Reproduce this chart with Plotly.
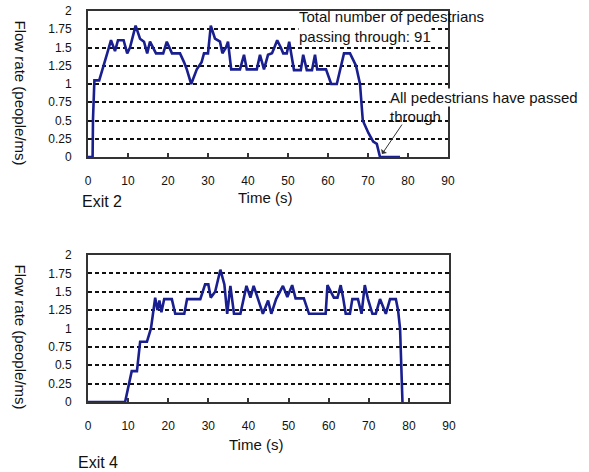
import plotly.graph_objects as go

# ---- data ----
exit2_t = [0, 1.15, 1.25, 1.6, 2.8, 3.8, 4.8, 5.75, 6.75, 7.5, 8.9, 9.8, 10.5, 11.9, 13, 14, 14.8,
           15.5, 16.5, 17, 18.8, 19.7, 21, 23, 24, 24.7, 25.8, 27.2, 28.4, 29, 30, 30.7, 31.75,
           33, 33.6, 34.5, 35, 35.8, 38, 39, 39.7, 42.2, 43, 44, 45, 46, 46.6, 47.3, 48.2, 48.8,
           49.7, 50.3, 51.5, 53.2, 53.8, 54.7, 56, 56.75, 57.3, 59.5, 60.8, 62.2, 64, 65.5, 67,
           68, 68.7, 70.1, 71.3, 72.2, 73, 78]
exit2_v = [0, 0, 0.52, 1.05, 1.05, 1.25, 1.42, 1.6, 1.45, 1.6, 1.6, 1.42, 1.5, 1.8, 1.62, 1.58, 1.42,
           1.58, 1.48, 1.42, 1.42, 1.58, 1.42, 1.42, 1.3, 1.2, 1.0, 1.2, 1.3, 1.42, 1.42, 1.8, 1.62,
           1.58, 1.42, 1.5, 1.58, 1.2, 1.2, 1.4, 1.2, 1.2, 1.4, 1.2, 1.4, 1.42, 1.5, 1.6, 1.5, 1.42,
           1.42, 1.58, 1.19, 1.19, 1.4, 1.19, 1.19, 1.4, 1.2, 1.2, 1.0, 1.0, 1.42, 1.42, 1.25,
           1.0, 0.5, 0.33, 0.21, 0.18, 0, 0]

exit4_t = [0, 9.25, 10.9, 12.2, 13, 14.7, 15.7, 16.3, 16.75, 17.3, 17.8, 18.3, 19, 20.9, 21.75, 24,
           24.7, 28, 29.2, 30, 30.6, 31.7, 33, 34, 34.7, 35.5, 36.4, 38, 39.5, 40.5, 41.3, 42.4,
           43.6, 44.9, 45.7, 46.9, 48.6, 49.7, 50.9, 51.75, 53.8, 55.1, 59.25, 59.7, 61.3, 62.2,
           63, 63.6, 64.25, 65.3, 65.9, 67.3, 68.2, 69, 69.8, 70.9, 71.75, 72.8, 74.25, 75.3,
           76.75, 77.3, 77.8, 78.4]
exit4_v = [0, 0, 0.42, 0.42, 0.82, 0.82, 1.0, 1.25, 1.42, 1.25, 1.38, 1.22, 1.4, 1.4, 1.2, 1.2,
           1.4, 1.4, 1.6, 1.6, 1.42, 1.5, 1.8, 1.6, 1.2, 1.58, 1.2, 1.2, 1.58, 1.42, 1.58, 1.4,
           1.2, 1.38, 1.2, 1.4, 1.58, 1.43, 1.59, 1.41, 1.41, 1.2, 1.2, 1.59, 1.42, 1.42,
           1.59, 1.42, 1.2, 1.2, 1.4, 1.4, 1.2, 1.59, 1.4, 1.2, 1.2, 1.4, 1.2, 1.4,
           1.4, 1.25, 1.0, 0]

y_ticks = [0, 0.25, 0.5, 0.75, 1, 1.25, 1.5, 1.75, 2]
y_ticktext = ["0", "0.25", "0.5", "0.75", "1", "1.25", "1.5", "1.75", "2"]
x_ticks = [0, 10, 20, 30, 40, 50, 60, 70, 80, 90]
x_ticktext = [str(v) for v in x_ticks]

W, H = 589, 472
FONT = "Arial, Liberation Sans, sans-serif"
LINE = "#1a1f8f"

def px(x):
    return x / W

def py(y):
    return 1 - y / H

fig = go.Figure()
fig.add_trace(go.Scatter(x=exit2_t, y=exit2_v, mode="lines",
                         line=dict(color=LINE, width=2.6), xaxis="x", yaxis="y",
                         showlegend=False, cliponaxis=True))
fig.add_trace(go.Scatter(x=exit4_t, y=exit4_v, mode="lines",
                         line=dict(color=LINE, width=2.6), xaxis="x2", yaxis="y2",
                         showlegend=False, cliponaxis=True))

xax = dict(range=[0, 90], tickvals=x_ticks, ticktext=x_ticktext, showgrid=False,
           zeroline=False, showline=True, mirror=True, linecolor="#333", linewidth=2,
           ticks="inside", ticklen=4, tickwidth=1.5, tickcolor="#333", automargin=False,
           tickfont=dict(family=FONT, size=12, color="#111"), ticklabelstandoff=12)
yax = dict(range=[0, 2], tickvals=y_ticks, ticktext=y_ticktext, showgrid=True,
           gridcolor="#111", griddash="4px,3px", gridwidth=1.6, automargin=False,
           zeroline=False, showline=True, mirror=True, linecolor="#333", linewidth=2,
           ticks="", tickfont=dict(family=FONT, size=12, color="#111"), ticklabelstandoff=12)

fig.update_layout(
    width=W, height=H, autosize=False,
    margin=dict(l=0, r=0, t=0, b=0, pad=0),
    paper_bgcolor="white", plot_bgcolor="white",
    xaxis=dict(xax, domain=[px(88), px(448)], anchor="y"),
    yaxis=dict(yax, domain=[py(157), py(11)], anchor="x"),
    xaxis2=dict(xax, domain=[px(88), px(449)], anchor="y2"),
    yaxis2=dict(yax, domain=[py(402), py(255)], anchor="x2"),
)

ann = []
tf = dict(family=FONT, size=15, color="#111")
# axis titles
for cy in (92.5, 336.5):
    ann.append(dict(text="Flow rate (people/ms)", textangle=90, x=px(20), y=py(cy),
                    xref="paper", yref="paper", showarrow=False, font=tf,
                    xanchor="center", yanchor="middle"))
ann.append(dict(text="Time (s)", x=px(264.5), y=py(197), xref="paper", yref="paper",
                showarrow=False, font=tf, xanchor="center", yanchor="middle"))
ann.append(dict(text="Time (s)", x=px(256), y=py(444), xref="paper", yref="paper",
                showarrow=False, font=tf, xanchor="center", yanchor="middle"))
ann.append(dict(text="Exit 2", x=px(80), y=py(201), xref="paper", yref="paper",
                showarrow=False, font=dict(family=FONT, size=16, color="#111"),
                xanchor="left", yanchor="middle"))
ann.append(dict(text="Exit 4", x=px(76), y=py(462), xref="paper", yref="paper",
                showarrow=False, font=dict(family=FONT, size=16, color="#111"),
                xanchor="left", yanchor="middle"))
# in-plot notes
ann.append(dict(text="Total number of pedestrians", x=52.6, y=1.92, xref="x", yref="y",
                showarrow=False, font=tf, xanchor="left", yanchor="middle", borderpad=0))
ann.append(dict(text="passing through: 91", x=52.6, y=1.782, xref="x", yref="y",
                showarrow=False, font=tf, xanchor="left", yanchor="top",
                bgcolor="white", borderpad=0))
ann.append(dict(text="All pedestrians have passed", x=75.2, y=0.82, xref="x", yref="y",
                showarrow=False, font=tf, xanchor="left", yanchor="middle",
                bgcolor="white", borderpad=0))
ann.append(dict(text="through", x=75.2, y=0.55, xref="x", yref="y",
                showarrow=False, font=tf, xanchor="left", yanchor="middle", borderpad=0))
ann.append(dict(text="", x=73.5, y=0.04, xref="x", yref="y", showarrow=True,
                ax=21, ay=-31, arrowhead=1, arrowsize=1.2, arrowwidth=1,
                arrowcolor="#333"))
fig.update_layout(annotations=ann)

fig.write_html("out.html", config={"displayModeBar": False},
               post_script="document.body.style.margin='0';document.body.style.overflow='hidden';")
